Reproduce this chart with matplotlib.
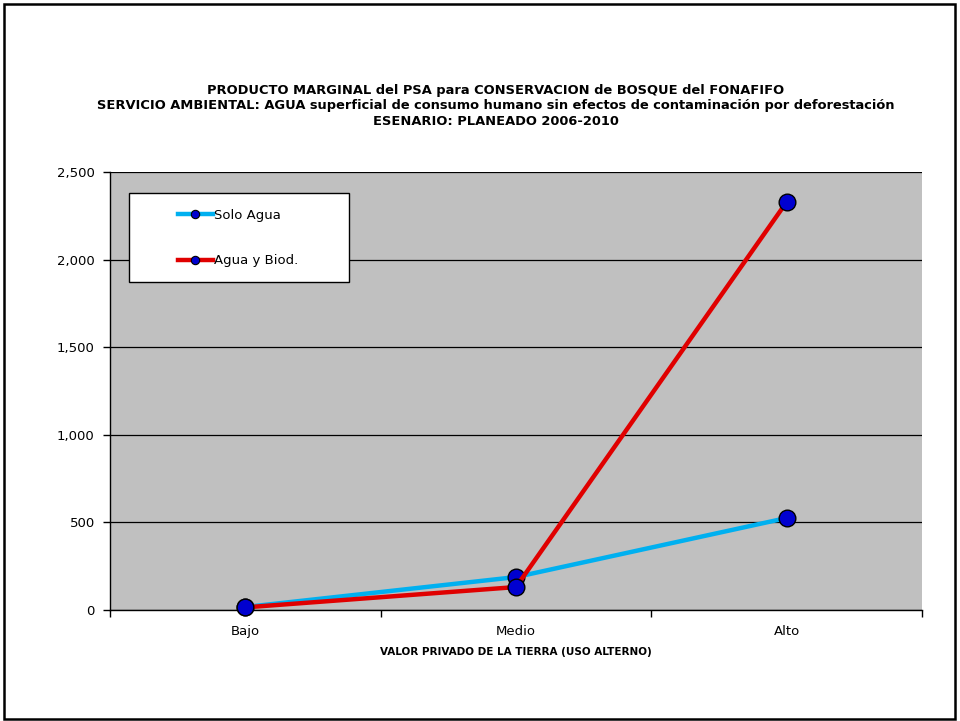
import matplotlib
matplotlib.use("Agg")
import matplotlib.pyplot as plt
from matplotlib.patches import Rectangle
from matplotlib.lines import Line2D
from matplotlib.ticker import FuncFormatter, FixedLocator

categories = ["Bajo", "Medio", "Alto"]
solo_agua = [17, 188, 525]
agua_biod = [15, 131, 2329]
series_labels = ["Solo Agua", "Agua y Biod."]
title = ("PRODUCTO MARGINAL del PSA para CONSERVACION de BOSQUE del FONAFIFO\n"
         "SERVICIO AMBIENTAL: AGUA superficial de consumo humano sin efectos de contaminación por deforestación\n"
         "ESENARIO: PLANEADO 2006-2010")
xlabel = "VALOR PRIVADO DE LA TIERRA (USO ALTERNO)"
yticks = [0, 500, 1000, 1500, 2000, 2500]

plt.rcParams['font.family'] = ['DejaVu Sans']

W, H = 960, 721
fig = plt.figure(figsize=(W / 100, H / 100), dpi=100)
fig.patch.set_facecolor("white")

# outer frame
fig.add_artist(Rectangle((4 / W, 1 - 719 / H), (955 - 4) / W, (719 - 4) / H,
                         transform=fig.transFigure, fill=False, edgecolor="black", lw=1.8))

left, right, top, bottom = 110, 922, 172, 610
ax = fig.add_axes([left / W, 1 - bottom / H, (right - left) / W, (bottom - top) / H])
ax.set_facecolor("#c0c0c0")

x = list(range(len(categories)))
ax.plot(x, solo_agua, color="#00b0f0", lw=3.2, marker="o", markersize=12,
        markerfacecolor="#0000d0", markeredgecolor="black", markeredgewidth=1.0,
        zorder=3, clip_on=False)
ax.plot(x, agua_biod, color="#e00000", lw=3.2, marker="o", markersize=12,
        markerfacecolor="#0000d0", markeredgecolor="black", markeredgewidth=1.0,
        zorder=4, clip_on=False)

ax.set_xlim(-0.5, len(categories) - 0.5)
ax.set_ylim(0, 2500)
ax.yaxis.set_major_locator(FixedLocator(yticks))
ax.yaxis.set_major_formatter(FuncFormatter(lambda v, p: f"{int(v):,}"))
ax.grid(axis="y", color="black", lw=0.9)
ax.set_axisbelow(True)

ax.xaxis.set_major_locator(FixedLocator([i - 0.5 for i in range(len(categories) + 1)]))
ax.xaxis.set_major_formatter(FuncFormatter(lambda v, p: ""))
ax.xaxis.set_minor_locator(FixedLocator(x))
ax.set_xticklabels(categories, minor=True)
ax.tick_params(axis="x", which="minor", length=0, pad=11, labelsize=9.5)
ax.tick_params(axis="x", which="major", direction="out", length=5, width=1)
ax.tick_params(axis="y", direction="out", length=5, width=1, labelsize=9.5, pad=6)

for s in ["top", "right"]:
    ax.spines[s].set_visible(False)
ax.spines["left"].set_color("black")
ax.spines["bottom"].set_color("black")
ax.spines["left"].set_linewidth(1)
ax.spines["bottom"].set_linewidth(1)

ax.set_xlabel(xlabel, fontsize=7.5, fontweight="bold", labelpad=6)

fig.text(496 / W, 1 - 106 / H, title, ha="center", va="center", fontsize=9.4,
         fontweight="bold", linespacing=1.22)

# legend box
lx0, ly0, lx1, ly1 = 129, 193, 349, 282
ax.add_patch(Rectangle(((lx0 - left) / (right - left), (bottom - ly1) / (bottom - top)),
                       (lx1 - lx0) / (right - left), (ly1 - ly0) / (bottom - top),
                       transform=ax.transAxes, facecolor="white", edgecolor="black",
                       lw=1, zorder=5))
handles = [
    Line2D([0], [0], color="#00b0f0", lw=3.2, marker="o", markersize=6,
           markerfacecolor="#0000d0", markeredgecolor="black", markeredgewidth=0.8),
    Line2D([0], [0], color="#e00000", lw=3.2, marker="o", markersize=6,
           markerfacecolor="#0000d0", markeredgecolor="black", markeredgewidth=0.8),
]
leg = ax.legend(handles, series_labels, loc="upper left",
                bbox_to_anchor=((178 - left) / (right - left), (bottom - 209) / (bottom - top)),
                frameon=False, fontsize=9.5, handlelength=2.65, handletextpad=0.1,
                labelspacing=2.45, borderpad=0, borderaxespad=0)
leg.set_zorder(6)

fig.savefig("out.png", dpi=100)
